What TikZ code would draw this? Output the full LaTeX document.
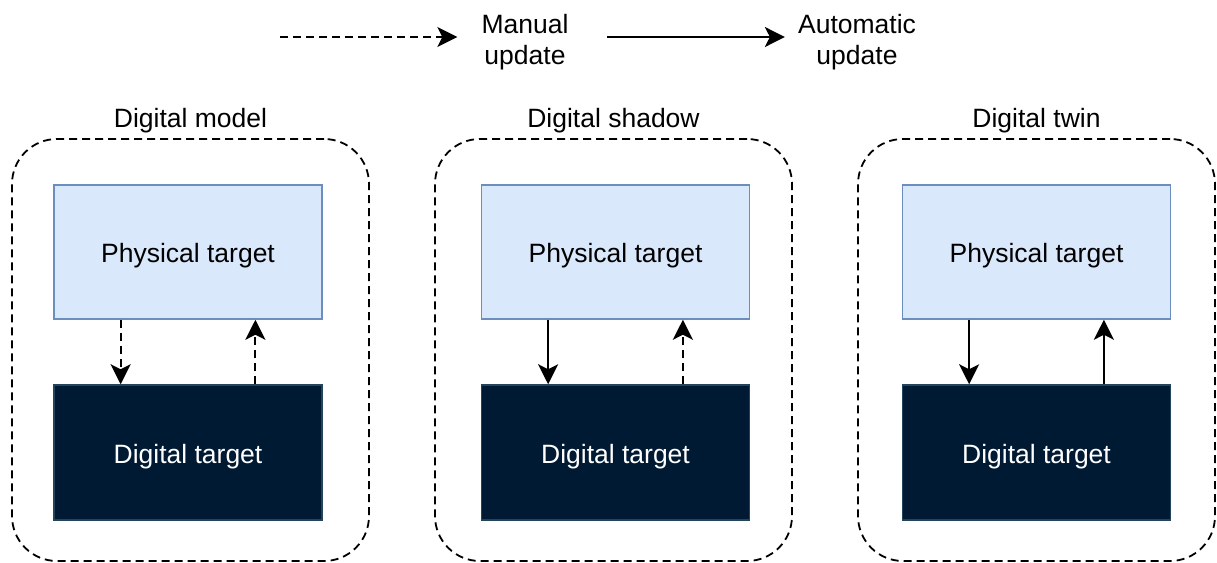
\documentclass[tikz,border=0pt]{standalone}
\usepackage{fontspec}
\setmainfont{Liberation Sans}
\usetikzlibrary{arrows.meta,calc}
\definecolor{physfill}{HTML}{DAE8FC}
\definecolor{physdraw}{HTML}{6C8EBF}
\definecolor{digfill}{HTML}{001A33}
\definecolor{digdraw}{HTML}{23445D}
\tikzset{
  txt/.style={font=\fontsize{26.5}{31}\selectfont, align=center, inner sep=0pt},
  group/.style={draw=black, line width=1.8pt, dash pattern=on 8pt off 5pt, rounded corners=45pt,
    minimum width=357pt, minimum height=422pt, inner sep=0pt},
  boxtxt/.style={txt, text height=27pt, text depth=5.5pt},
  phys/.style={draw=physdraw, fill=physfill, line width=1.5pt, minimum width=268pt, minimum height=134pt,
    boxtxt, text=black},
  dig/.style={draw=digdraw, fill=digfill, line width=1.5pt, minimum width=268pt, minimum height=135pt,
    boxtxt, text=white},
  arr/.style={line width=2pt, -{Stealth[length=20pt,width=20pt,inset=5pt]}},
  man/.style={arr, dash pattern=on 8pt off 5pt},
  auto/.style={arr},
}
\begin{document}
\begin{tikzpicture}[x=1pt,y=-1pt]
\useasboundingbox (0,0) rectangle (1217,562);
% legend
\coordinate (l1) at (280,37);
\node[txt] (lman) at (525,42) {Manual\\update};
\coordinate (l2) at (607,37);
\node[txt] (laut) at (857,42) {Automatic\\update};
\draw[man] (l1) -- ([xshift=-24pt]lman.west |- l1);
\draw[auto] (l2) -- ([xshift=-13pt]laut.west |- l2);
% groups
\foreach \name/\gx/\cx/\title/\dn/\up in {a/190.5/188/Digital model/man/man, b/613.5/615.5/Digital shadow/auto/man, c/1036.5/1036.5/Digital twin/auto/auto}{
  \node[group] (g\name) at (\gx,350) {};
  \node[txt] (t\name) at (\gx,121) {\title};
  \node[phys] (p\name) at (\cx,252) {Physical target};
  \node[dig] (d\name) at (\cx,452.5) {Digital target};
  \draw[\dn] ($(p\name.south west)!0.25!(p\name.south east)$) -- ($(d\name.north west)!0.25!(d\name.north east)$);
  \draw[\up] ($(d\name.north west)!0.75!(d\name.north east)$) -- ($(p\name.south west)!0.75!(p\name.south east)$);
}
\end{tikzpicture}
\end{document}
